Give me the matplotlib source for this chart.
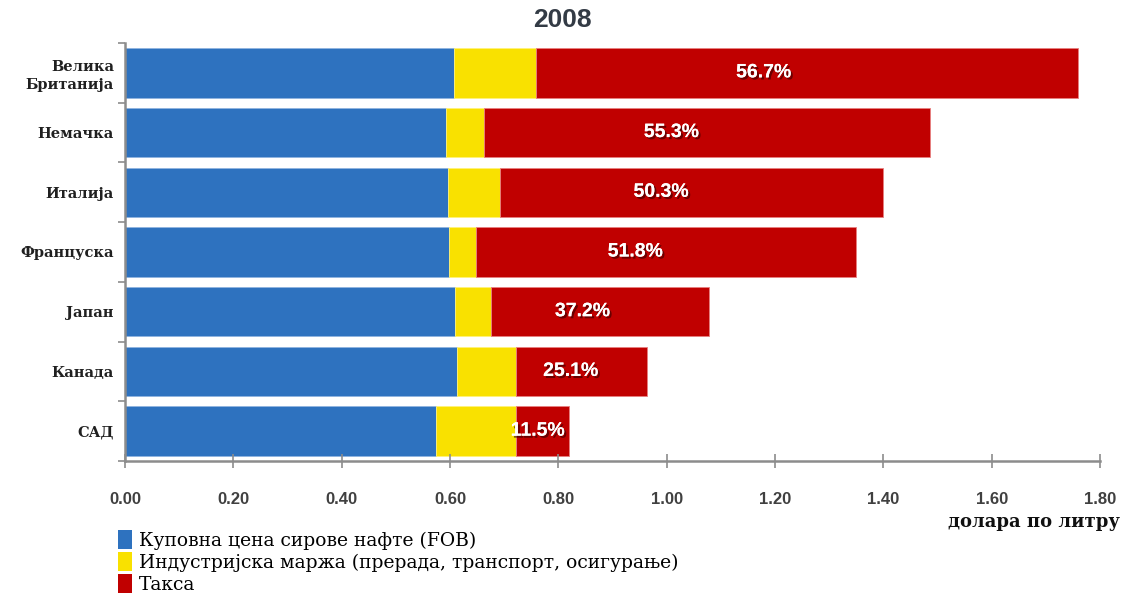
import matplotlib
matplotlib.use("Agg")
import matplotlib.pyplot as plt
import matplotlib.patheffects as pe
from matplotlib.patches import Patch
import numpy as np

countries = ["Велика\nБританија", "Немачка", "Италија", "Француска", "Јапан", "Канада", "САД"]
crude = [0.607, 0.593, 0.596, 0.598, 0.609, 0.613, 0.574]
margin = [0.152, 0.070, 0.097, 0.050, 0.067, 0.108, 0.147]
tax = [1.001, 0.824, 0.707, 0.701, 0.402, 0.243, 0.098]
tax_labels = ["56.7%", "55.3%", "50.3%", "51.8%", "37.2%", "25.1%", "11.5%"]
series_names = ["Куповна цена сирове нафте (FOB)",
                "Индустријска маржа (прерада, транспорт, осигурање)",
                "Такса"]
xticks = [0.0, 0.2, 0.4, 0.6, 0.8, 1.0, 1.2, 1.4, 1.6, 1.8]
title = "2008"
xlabel = "долара по литру"

colors = ["#2E72BF", "#F9E100", "#C00000"]
edges = ["#8FB4E0", "#FFF27A", "#E88080"]

fig = plt.figure(figsize=(11.28, 5.94), dpi=100)
ax = fig.add_axes([125/1128, 1-461/594, 975/1128, 418/594])

y = np.arange(len(countries))
crude_a = np.array(crude)
margin_a = np.array(margin)
tax_a = np.array(tax)
h = 0.83
ax.barh(y, crude_a, height=h, color=colors[0], edgecolor=edges[0], linewidth=0.6)
ax.barh(y, margin_a, left=crude_a, height=h, color=colors[1], edgecolor=edges[1], linewidth=0.6)
ax.barh(y, tax_a, left=crude_a + margin_a, height=h, color=colors[2], edgecolor=edges[2], linewidth=0.6)

for i, lab in enumerate(tax_labels):
    xs = crude_a[i] + margin_a[i] + 0.42 * tax_a[i]
    ax.text(xs, y[i], lab, ha="center", va="center", color="white",
            fontsize=14, fontweight="bold", family="Liberation Sans",
            path_effects=[pe.withSimplePatchShadow(offset=(1.5, -1.5), shadow_rgbFace="#300000", alpha=0.6),
                          pe.Normal()])

ax.set_xlim(0, 1.8)
ax.set_ylim(len(countries) - 0.5, -0.5)
ax.set_xticks(xticks)
ax.set_xticklabels([f"{v:.2f}" for v in xticks], fontsize=12, fontweight="bold",
                   family="Liberation Sans", color="#404040")
ax.set_yticks(y)
ax.set_yticklabels(countries, fontsize=10.5, fontweight="bold", family="DejaVu Serif",
                   color="#202020", linespacing=1.35)
ax.set_yticks(np.arange(-0.5, len(countries) + 0.5, 1), minor=True)
ax.tick_params(axis="y", which="major", length=0, pad=8)
ax.tick_params(axis="y", which="minor", length=5, width=1.2, color="#8c8c8c", direction="out")
ax.tick_params(axis="x", which="major", length=10, width=1.2, color="#8c8c8c", direction="inout", pad=17)

for s in ["top", "right"]:
    ax.spines[s].set_visible(False)
for s in ["left", "bottom"]:
    ax.spines[s].set_color("#8c8c8c")
    ax.spines[s].set_linewidth(1.8)

fig.text(562/1128, 1-20/594, title, ha="center", va="center", fontsize=19,
         fontweight="bold", family="Liberation Sans", color="#333B45")
fig.text(1120/1128, 1-522/594, xlabel, ha="right", va="center", fontsize=13,
         fontweight="bold", family="DejaVu Serif", color="#101010")

handles = [Patch(facecolor=c, edgecolor="none") for c in colors]
fig.legend(handles, series_names, loc="upper left", bbox_to_anchor=(118/1128, 1-530/594),
           frameon=False, prop={"family": "DejaVu Serif", "size": 13.5},
           handlelength=0.75, handleheight=1.2, handletextpad=0.35, labelspacing=0.1,
           borderpad=0, borderaxespad=0)

fig.savefig("out.png", dpi=100)
